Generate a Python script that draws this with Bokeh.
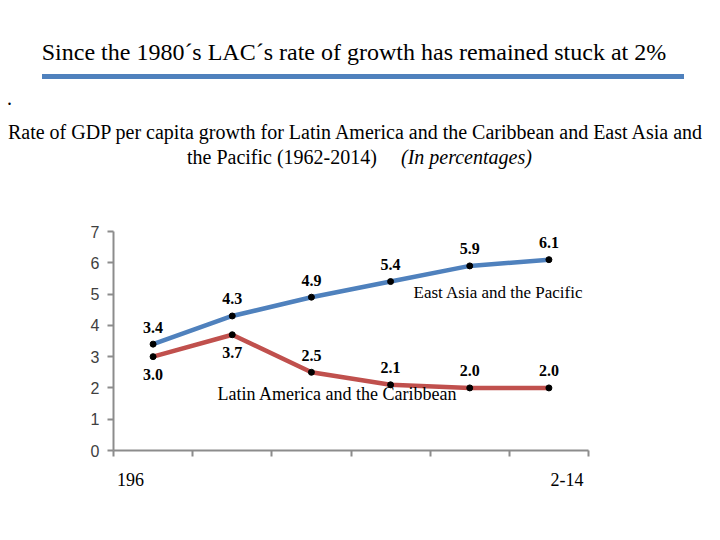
from bokeh.plotting import figure
from bokeh.layouts import column
from bokeh.models import FixedTicker, Label, ColumnDataSource, LabelSet, Div
from bokeh.embed import file_html
from bokeh.resources import INLINE

periods = ["1962-1969", "1970-1979", "1980-1989", "1990-1999", "2000-2009", "2010-2014"]
eap = [3.4, 4.3, 4.9, 5.4, 5.9, 6.1]
lac = [3.0, 3.7, 2.5, 2.1, 2.0, 2.0]
y_ticks = [0, 1, 2, 3, 4, 5, 6, 7]
x_tick_text = {0: "196", 5: "2-14"}

title_text = "Since the 1980\u00b4s LAC\u00b4s rate of growth has remained stuck at 2%"
sub1 = "Rate of GDP per capita growth for Latin America and the Caribbean and East Asia and"
sub2 = "the Pacific (1962-2014)"
sub3 = "(In percentages)"
name_eap = "East Asia and the Pacific"
name_lac = "Latin America and the Caribbean"

xs = [i + 0.5 for i in range(len(periods))]
src = ColumnDataSource(dict(
    x=xs, eap=eap, lac=lac,
    eap_t=["%.1f" % v for v in eap], lac_t=["%.1f" % v for v in lac]))
src_lo = ColumnDataSource(dict(x=xs[:2], lac=lac[:2], lac_t=["%.1f" % v for v in lac[:2]]))
src_hi = ColumnDataSource(dict(x=xs[2:], lac=lac[2:], lac_t=["%.1f" % v for v in lac[2:]]))

HEAD_H = 211
p = figure(width=704, height=313, output_backend="svg", toolbar_location=None,
           x_range=(0, len(periods)), y_range=(0, 7),
           min_border_left=113, min_border_right=116, min_border_top=20, min_border_bottom=74)
p.outline_line_color = None
p.xgrid.visible = False
p.ygrid.visible = False
p.background_fill_color = "white"
p.border_fill_color = "white"

# axes
ax_col = "#8c8c8c"
p.yaxis.ticker = FixedTicker(ticks=y_ticks)
p.yaxis.axis_line_color = ax_col
p.yaxis.axis_line_width = 2
p.yaxis.major_tick_line_color = ax_col
p.yaxis.major_tick_line_width = 2
p.yaxis.major_tick_in = 0
p.yaxis.major_tick_out = 6
p.yaxis.minor_tick_line_color = None
p.yaxis.major_label_text_font = "Liberation Sans"
p.yaxis.major_label_text_font_size = "16px"
p.yaxis.major_label_text_color = "#404040"
p.yaxis.major_label_standoff = 8

nb = "\u00a0"
overrides = {x: "" for x in xs}
overrides[xs[0]] = x_tick_text[0] + nb * 10
overrides[xs[5]] = nb * 8 + x_tick_text[5]
p.xaxis.ticker = FixedTicker(ticks=xs, minor_ticks=list(range(len(periods) + 1)))
p.xaxis.major_label_overrides = overrides
p.xaxis.axis_line_color = ax_col
p.xaxis.axis_line_width = 2
p.xaxis.major_tick_line_color = None
p.xaxis.minor_tick_line_color = ax_col
p.xaxis.minor_tick_line_width = 2
p.xaxis.minor_tick_in = 0
p.xaxis.minor_tick_out = 6
p.xaxis.major_label_text_font = "Liberation Serif"
p.xaxis.major_label_text_font_size = "18px"
p.xaxis.major_label_text_color = "black"
p.xaxis.major_label_standoff = 13

# lines
p.line("x", "eap", source=src, line_color="#4F81BD", line_width=4.5)
p.line("x", "lac", source=src, line_color="#C0504D", line_width=4.5)
p.scatter("x", "eap", source=src, marker="circle", size=6, color="black")
p.scatter("x", "lac", source=src, marker="circle", size=6, color="black")

lab_kw = dict(text_font="Liberation Serif", text_font_size="16px", text_font_style="bold",
              text_align="center", text_baseline="middle", text_color="black")
p.add_layout(LabelSet(x="x", y="eap", text="eap_t", source=src, y_offset=17, **lab_kw))
p.add_layout(LabelSet(x="x", y="lac", text="lac_t", source=src_lo, y_offset=-18, **lab_kw))
p.add_layout(LabelSet(x="x", y="lac", text="lac_t", source=src_hi, y_offset=17, **lab_kw))

# series names
nm_kw = dict(text_font="Liberation Serif", text_baseline="middle",
             text_align="left", x_units="screen", y_units="screen", text_color="black")
p.add_layout(Label(x=300, y=158, text=name_eap, text_font_size="17px", **nm_kw))
p.add_layout(Label(x=104, y=57, text=name_lac, text_font_size="18px", **nm_kw))

# header
ff = "font-family:'Liberation Serif',serif;color:black;position:absolute;white-space:nowrap;"
html = (
    f'<div style="position:relative;width:720px;height:{HEAD_H}px;">'
    f'<div style="{ff}left:0;width:708px;top:38px;line-height:28px;font-size:24px;text-align:center;">{title_text}</div>'
    f'<div style="position:absolute;left:42px;width:642px;top:74px;height:5px;background:#4F81BD;"></div>'
    f'<div style="{ff}left:7px;top:86px;line-height:24px;font-size:20px;">.</div>'
    f'<div style="{ff}left:0;width:710px;top:120px;line-height:24px;font-size:20px;text-align:center;">{sub1}</div>'
    f'<div style="{ff}left:187px;top:145px;line-height:24px;font-size:20px;">{sub2}</div>'
    f'<div style="{ff}left:401px;top:145px;line-height:24px;font-size:20px;font-style:italic;">{sub3}</div>'
    '</div>'
)
head = Div(text=html, width=704, height=HEAD_H, margin=0)

layout = column(head, p, spacing=0)
open("out.html", "w").write(file_html(layout, INLINE))
